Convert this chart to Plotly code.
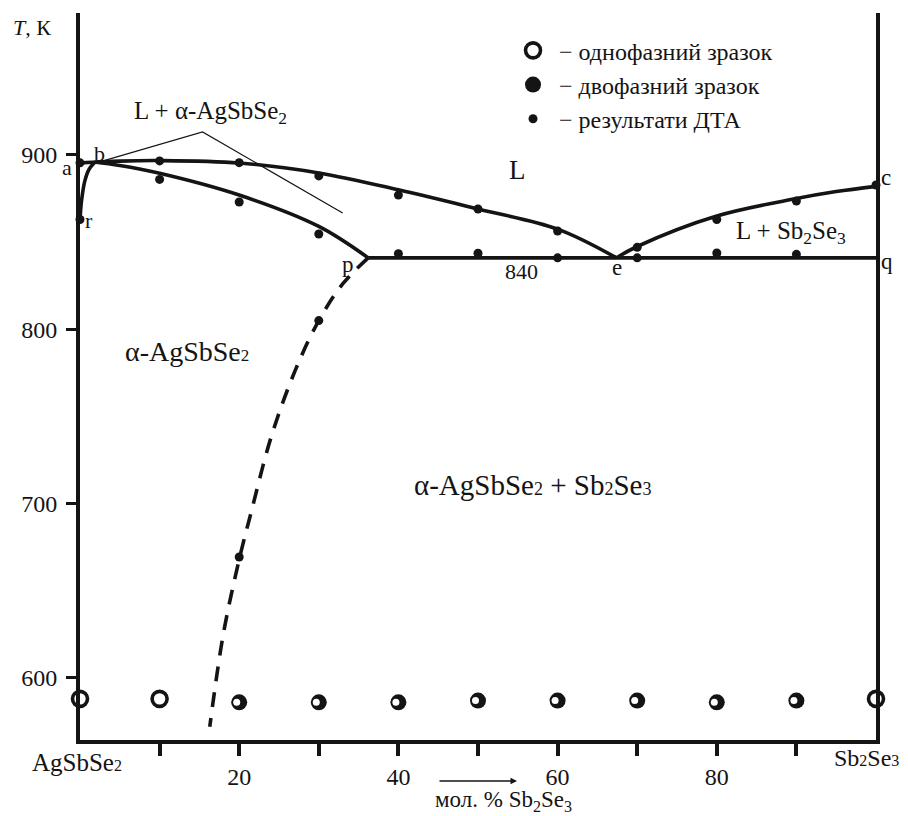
import plotly.graph_objects as go

# ---------------- data (x = mol. % Sb2Se3, T in K) ----------------
# samples after annealing
one_phase_x = [0, 10, 100]
one_phase_t = [588, 588, 588]
two_phase_x = [20, 30, 40, 50, 60, 70, 80, 90]
two_phase_t = [586, 586, 586, 587, 587, 587, 586, 587]

# DTA results
dta_x = [0, 0, 100,
         10, 20, 30, 40, 50, 60,
         10, 20, 30,
         40, 50, 60, 70, 80, 90,
         70, 80, 90,
         30, 20]
dta_t = [895.5, 863, 882.8,
         896.6, 895.6, 888, 877, 869, 856.4,
         886, 873, 854.7,
         843.4, 843.7, 841, 841, 843.8, 843,
         847, 863, 873.6,
         805, 669.4]

# phase boundaries
liq_left_x = [0, 5, 10, 20, 30, 40, 50, 60, 67.4]
liq_left_t = [895.5, 896.5, 896.8, 895.4, 889.7, 880, 869, 857.5, 841]
sol_left_x = [1.8, 5, 10, 20, 30, 36.2]
sol_left_t = [896, 894, 889.5, 877, 859, 841]
r_curve_x = [0, 0.2, 0.6, 1.1, 1.8]
r_curve_t = [863, 874, 885, 891.5, 895.5]
liq_right_x = [67.4, 70, 80, 90, 95, 100]
liq_right_t = [841, 847.5, 865, 875, 879, 882]
eut_x = [36.2, 100]
eut_t = [841, 841]
solvus_x = [36.2, 33, 30, 27, 24, 21.5, 20, 18, 16.3]
solvus_t = [841, 826, 805, 776, 738, 695, 668, 625, 572]
leader_x = [2.8, 15.4, 33]
leader_t = [896.5, 913.2, 866.7]

y_ticks = [600, 700, 800, 900]
x_ticks = [10, 20, 30, 40, 50, 60, 70, 80, 90]
x_tick_text = ["", "20", "", "40", "", "60", "", "80", ""]

SERIF = "Liberation Serif"
INK = "#141414"

# plot area on the page (the page body adds an 8 px offset)
BODY = 8
W, H = 908, 816
P_LEFT, P_RIGHT, P_TOP, P_BOTTOM = 80, 876, 13, 740

fig = go.Figure()

def curve(x, y, dash=None, width=3.6, shape="spline"):
    fig.add_trace(go.Scatter(x=x, y=y, mode="lines", showlegend=False, hoverinfo="skip",
                             cliponaxis=False,
                             line=dict(color=INK, width=width, shape=shape, dash=dash)))

curve(liq_left_x, liq_left_t)
curve(sol_left_x, sol_left_t)
curve(r_curve_x, r_curve_t)
curve(liq_right_x, liq_right_t)
curve(eut_x, eut_t, shape="linear")
curve(solvus_x, solvus_t, dash="15px,11px")
curve(leader_x, leader_t, width=1.2, shape="linear")

# samples
fig.add_trace(go.Scatter(x=one_phase_x, y=one_phase_t, mode="markers", cliponaxis=False,
                         name="\u00a0− однофазний зразок",
                         marker=dict(symbol="circle-open", size=15, color=INK, line=dict(width=3.6))))
fig.add_trace(go.Scatter(x=two_phase_x, y=two_phase_t, mode="markers", cliponaxis=False,
                         name="\u00a0− двофазний зразок",
                         marker=dict(symbol="circle", size=16, color=INK, line=dict(width=0))))
fig.add_trace(go.Scatter(x=two_phase_x, y=two_phase_t, mode="markers", cliponaxis=False,
                         showlegend=False, hoverinfo="skip",
                         marker=dict(symbol="circle", size=7, color="white", angle=90, standoff=2.5,
                                     line=dict(width=0))))
fig.add_trace(go.Scatter(x=dta_x, y=dta_t, mode="markers", cliponaxis=False,
                         name="\u00a0− результати ДТА",
                         marker=dict(symbol="circle", size=9, color=INK)))

def sm(s, size=15):
    return f"<span style='font-size:{size}px'>{s}</span>"

def label(x, y, text, size=22):
    fig.add_annotation(x=x, y=y, xref="x", yref="y", text=text, showarrow=False,
                       xanchor="center", yanchor="middle",
                       font=dict(family=SERIF, size=size, color=INK))

def page_label(px, py, text, size=22):
    fig.add_annotation(x=(px - P_LEFT) / (P_RIGHT - P_LEFT),
                       y=(P_BOTTOM - py) / (P_BOTTOM - P_TOP),
                       xref="paper", yref="paper", text=text, showarrow=False,
                       xanchor="center", yanchor="middle",
                       font=dict(family=SERIF, size=size, color=INK))

label(2.5, 901.1, "b")
label(1.15, 862.7, "r")
label(54.9, 891.4, "L", size=27)
label(33.7, 836.9, "p", size=23)
label(55.5, 832.9, "840")
label(67.5, 835.2, "e", size=23)
label(16.4, 924.1, "L + α-AgSbSe<sub>2</sub>", size=25)
label(89.3, 855.3, "L + Sb<sub>2</sub>Se<sub>3</sub>", size=25)
label(13.5, 787, "α-AgSbSe" + sm("2", 17), size=28)
label(56.8, 710.7, "α-AgSbSe" + sm("2", 18) + " + Sb" + sm("2", 18) + "Se" + sm("3", 18), size=29)

# labels outside the axes
page_label(67, 168, "a")
page_label(886, 177, "c", size=23)
page_label(887, 262, "q", size=23)
page_label(77, 762, "AgSbSe" + sm("2", 16), size=25)
page_label(866, 758, "Sb" + sm("2", 16) + "Se" + sm("3", 16), size=24)
page_label(503, 801, "мол. % Sb<sub>2</sub>Se<sub>3</sub>", size=23)
page_label(32, 28, "<i>T</i>, К", size=22)
fig.add_annotation(x=(517 - P_LEFT) / (P_RIGHT - P_LEFT), y=(P_BOTTOM - 781) / (P_BOTTOM - P_TOP),
                   xref="paper", yref="paper", ax=-79, ay=0,
                   text="", showarrow=True, arrowhead=2, arrowsize=1, arrowwidth=1.3,
                   arrowcolor=INK)

fig.update_xaxes(range=[0, 100], showline=True, linewidth=4, linecolor=INK, mirror=False,
                 ticks="outside", ticklen=12, tickwidth=3.5, tickcolor=INK,
                 tickvals=x_ticks, ticktext=x_tick_text,
                 tickfont=dict(family=SERIF, size=24, color=INK),
                 showgrid=False, zeroline=False)
fig.update_yaxes(range=[564.4, 981.45], showline=True, linewidth=4, linecolor=INK, mirror=True,
                 ticks="outside", ticklen=10, tickwidth=3, tickcolor=INK,
                 tickvals=y_ticks, ticklabelstandoff=4,
                 tickfont=dict(family=SERIF, size=24, color=INK),
                 showgrid=False, zeroline=False)

fig.update_layout(
    width=W, height=H,
    margin=dict(l=P_LEFT - BODY, r=W - (P_RIGHT - BODY), t=P_TOP - BODY, b=H - (P_BOTTOM - BODY)),
    paper_bgcolor="white", plot_bgcolor="white",
    showlegend=True,
    legend=dict(x=0.544, y=0.979, xanchor="left", yanchor="top",
                bgcolor="rgba(0,0,0,0)", font=dict(family=SERIF, size=24, color=INK),
                itemsizing="trace", tracegroupgap=0),
)

fig.write_html("out.html")
